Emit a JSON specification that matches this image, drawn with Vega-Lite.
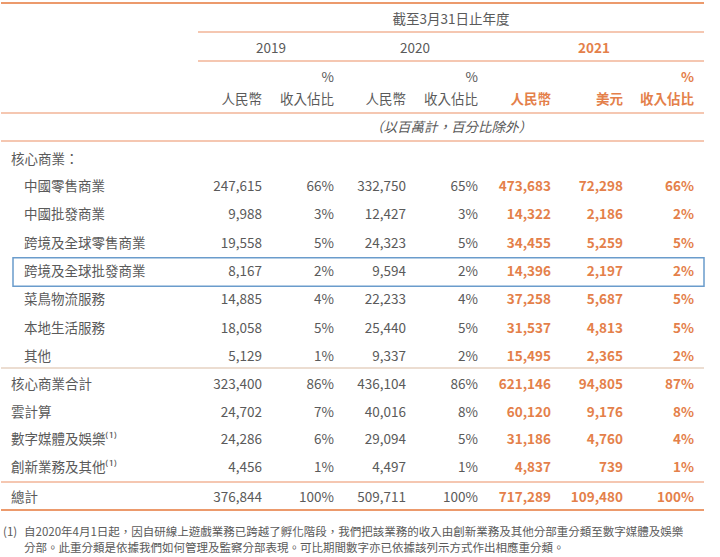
{
  "$schema": "https://vega.github.io/schema/vega-lite/v6.json",
  "width": 720,
  "height": 557,
  "autosize": {"type": "fit", "contains": "padding"},
  "padding": 0,
  "background": "white",
  "config": {"view": {"stroke": null}, "text": {"font": "Noto Sans CJK TC", "fontSize": 13.5, "baseline": "middle"}},
  "datasets": {
    "cols": [
      {"key": "r19", "col": 6}, {"key": "p19", "col": 8},
      {"key": "r20", "col": 9}, {"key": "p20", "col": 12},
      {"key": "r21", "col": 13}, {"key": "u21", "col": 15}, {"key": "p21", "col": 16}
    ],
    "body": [
      {"row": 6, "col": 4, "label": "中國零售商業", "r19": 247615, "p19": 0.66, "r20": 332750, "p20": 0.65, "r21": 473683, "u21": 72298, "p21": 0.66},
      {"row": 7, "col": 4, "label": "中國批發商業", "r19": 9988, "p19": 0.03, "r20": 12427, "p20": 0.03, "r21": 14322, "u21": 2186, "p21": 0.02},
      {"row": 8, "col": 4, "label": "跨境及全球零售商業", "r19": 19558, "p19": 0.05, "r20": 24323, "p20": 0.05, "r21": 34455, "u21": 5259, "p21": 0.05},
      {"row": 9, "col": 4, "label": "跨境及全球批發商業", "r19": 8167, "p19": 0.02, "r20": 9594, "p20": 0.02, "r21": 14396, "u21": 2197, "p21": 0.02},
      {"row": 10, "col": 4, "label": "菜鳥物流服務", "r19": 14885, "p19": 0.04, "r20": 22233, "p20": 0.04, "r21": 37258, "u21": 5687, "p21": 0.05},
      {"row": 11, "col": 4, "label": "本地生活服務", "r19": 18058, "p19": 0.05, "r20": 25440, "p20": 0.05, "r21": 31537, "u21": 4813, "p21": 0.05},
      {"row": 12, "col": 4, "label": "其他", "r19": 5129, "p19": 0.01, "r20": 9337, "p20": 0.02, "r21": 15495, "u21": 2365, "p21": 0.02},
      {"row": 13, "col": 2, "label": "核心商業合計", "r19": 323400, "p19": 0.86, "r20": 436104, "p20": 0.86, "r21": 621146, "u21": 94805, "p21": 0.87},
      {"row": 14, "col": 2, "label": "雲計算", "r19": 24702, "p19": 0.07, "r20": 40016, "p20": 0.08, "r21": 60120, "u21": 9176, "p21": 0.08},
      {"row": 15, "col": 2, "label": "數字媒體及娛樂⁽¹⁾", "r19": 24286, "p19": 0.06, "r20": 29094, "p20": 0.05, "r21": 31186, "u21": 4760, "p21": 0.04},
      {"row": 16, "col": 2, "label": "創新業務及其他⁽¹⁾", "r19": 4456, "p19": 0.01, "r20": 4497, "p20": 0.01, "r21": 4837, "u21": 739, "p21": 0.01},
      {"row": 17, "col": 2, "label": "總計", "r19": 376844, "p19": 1.0, "r20": 509711, "p20": 1.0, "r21": 717289, "u21": 109480, "p21": 1.0}
    ],
    "head": [
      {"row": 0, "col": 11, "text": "截至3月31日止年度", "s": "c"},
      {"row": 1, "col": 7, "text": "2019", "s": "c"},
      {"row": 1, "col": 10, "text": "2020", "s": "c"},
      {"row": 1, "col": 14, "text": "2021", "s": "co"},
      {"row": 2, "col": 8, "text": "%", "s": "r"},
      {"row": 2, "col": 12, "text": "%", "s": "r"},
      {"row": 2, "col": 16, "text": "%", "s": "ro"},
      {"row": 3, "col": 6, "text": "人民幣", "s": "r"},
      {"row": 3, "col": 8, "text": "收入佔比", "s": "r"},
      {"row": 3, "col": 9, "text": "人民幣", "s": "r"},
      {"row": 3, "col": 12, "text": "收入佔比", "s": "r"},
      {"row": 3, "col": 13, "text": "人民幣", "s": "ro"},
      {"row": 3, "col": 15, "text": "美元", "s": "ro"},
      {"row": 3, "col": 16, "text": "收入佔比", "s": "ro"},
      {"row": 4, "col": 11, "text": "（以百萬計，百分比除外）", "s": "ci"},
      {"row": 5, "col": 2, "text": "核心商業：", "s": "l"},
      {"row": 18, "col": 1, "text": "(1)", "s": "f"},
      {"row": 18, "col": 4, "text": "自2020年4月1日起，因自研線上遊戲業務已跨越了孵化階段，我們把該業務的收入由創新業務及其他分部重分類至數字媒體及娛樂", "s": "f"},
      {"row": 19, "col": 4, "text": "分部。此重分類是依據我們如何管理及監察分部表現。可比期間數字亦已依據該列示方式作出相應重分類。", "s": "f"}
    ],
    "lines": [
      {"y": -0.5, "c1": 0, "c2": 17, "kind": "top"},
      {"y": 0.5, "c1": 5, "c2": 17, "kind": "thin"},
      {"y": 1.5, "c1": 5, "c2": 17, "kind": "thin"},
      {"y": 3.5, "c1": 0, "c2": 17, "kind": "thin"},
      {"y": 4.5, "c1": 0, "c2": 17, "kind": "thin"},
      {"y": 12.5, "c1": 0, "c2": 17, "kind": "tan"},
      {"y": 16.5, "c1": 0, "c2": 17, "kind": "thin"},
      {"y": 17.5, "c1": 0, "c2": 17, "kind": "top"}
    ],
    "box": [{"r1": 8.5, "r2": 9.5, "c1": 3, "c2": 17}]
  },
  "encoding": {
    "x": {"field": "col", "type": "quantitative", "axis": null,
      "scale": {"domain": [0, 1, 2, 3, 4, 5, 6, 7, 8, 9, 10, 11, 12, 13, 14, 15, 16, 17, 18],
                "range": [0, 2, 10, 12, 23, 197, 261, 270, 333, 405, 414, 450, 477, 550, 593, 622, 693, 703, 720],
                "zero": false, "nice": false}},
    "y": {"field": "row", "type": "quantitative", "axis": null,
      "scale": {"domain": [-0.5, 0, 0.5, 1, 1.5, 2, 3, 3.5, 4, 4.5, 5, 6, 12, 12.5, 13, 16.5, 17, 17.5, 18, 19],
                "range": [3, 20, 32, 49, 61, 78, 100, 113, 128, 141, 160, 187, 357, 368, 385, 482, 498, 510, 533, 549],
                "zero": false, "nice": false}}
  },
  "layer": [
    {
      "data": {"name": "lines"},
      "mark": {"type": "rule"},
      "encoding": {
        "x": {"field": "c1", "type": "quantitative"},
        "x2": {"field": "c2"},
        "y": {"field": "y", "type": "quantitative"},
        "color": {"field": "kind", "type": "nominal", "legend": null,
          "scale": {"domain": ["top", "thin", "tan"], "range": ["#ec9a6c", "#f2b497", "#d9bca4"]}},
        "strokeWidth": {"field": "kind", "type": "nominal", "legend": null,
          "scale": {"domain": ["top", "thin", "tan"], "range": [2, 1.2, 2.5]}}
      }
    },
    {
      "data": {"name": "box"},
      "mark": {"type": "rect", "fill": null, "fillOpacity": 0, "stroke": "#6a9ccc", "strokeWidth": 1.5},
      "encoding": {
        "x": {"field": "c1", "type": "quantitative"},
        "x2": {"field": "c2"},
        "y": {"field": "r1", "type": "quantitative"},
        "y2": {"field": "r2"}
      }
    },
    {
      "data": {"name": "body"},
      "mark": {"type": "text", "align": "left", "color": "#5a5a5a"},
      "encoding": {"text": {"field": "label"}}
    },
    {
      "data": {"name": "body"},
      "transform": [
        {"fold": ["r19", "r20"], "as": ["key", "value"]},
        {"lookup": "key", "from": {"data": {"name": "cols"}, "key": "key", "fields": ["col"]}}
      ],
      "mark": {"type": "text", "align": "right", "color": "#5a5a5a"},
      "encoding": {"text": {"field": "value", "type": "quantitative", "format": ","}}
    },
    {
      "data": {"name": "body"},
      "transform": [
        {"fold": ["p19", "p20"], "as": ["key", "value"]},
        {"lookup": "key", "from": {"data": {"name": "cols"}, "key": "key", "fields": ["col"]}}
      ],
      "mark": {"type": "text", "align": "right", "color": "#5a5a5a"},
      "encoding": {"text": {"field": "value", "type": "quantitative", "format": ".0%"}}
    },
    {
      "data": {"name": "body"},
      "transform": [
        {"fold": ["r21", "u21"], "as": ["key", "value"]},
        {"lookup": "key", "from": {"data": {"name": "cols"}, "key": "key", "fields": ["col"]}}
      ],
      "mark": {"type": "text", "align": "right", "color": "#e4804a", "fontWeight": "bold"},
      "encoding": {"text": {"field": "value", "type": "quantitative", "format": ","}}
    },
    {
      "data": {"name": "body"},
      "transform": [
        {"fold": ["p21"], "as": ["key", "value"]},
        {"lookup": "key", "from": {"data": {"name": "cols"}, "key": "key", "fields": ["col"]}}
      ],
      "mark": {"type": "text", "align": "right", "color": "#e4804a", "fontWeight": "bold"},
      "encoding": {"text": {"field": "value", "type": "quantitative", "format": ".0%"}}
    },
    {
      "data": {"name": "head"},
      "transform": [{"filter": "datum.s == 'l'"}],
      "mark": {"type": "text", "align": "left", "color": "#5a5a5a"},
      "encoding": {"text": {"field": "text"}}
    },
    {
      "data": {"name": "head"},
      "transform": [{"filter": "datum.s == 'r'"}],
      "mark": {"type": "text", "align": "right", "color": "#5a5a5a"},
      "encoding": {"text": {"field": "text"}}
    },
    {
      "data": {"name": "head"},
      "transform": [{"filter": "datum.s == 'ro'"}],
      "mark": {"type": "text", "align": "right", "color": "#e4804a", "fontWeight": "bold"},
      "encoding": {"text": {"field": "text"}}
    },
    {
      "data": {"name": "head"},
      "transform": [{"filter": "datum.s == 'c'"}],
      "mark": {"type": "text", "align": "center", "color": "#5a5a5a"},
      "encoding": {"text": {"field": "text"}}
    },
    {
      "data": {"name": "head"},
      "transform": [{"filter": "datum.s == 'co'"}],
      "mark": {"type": "text", "align": "center", "color": "#e4804a", "fontWeight": "bold"},
      "encoding": {"text": {"field": "text"}}
    },
    {
      "data": {"name": "head"},
      "transform": [{"filter": "datum.s == 'ci'"}],
      "mark": {"type": "text", "align": "center", "color": "#5a5a5a", "fontStyle": "italic"},
      "encoding": {"text": {"field": "text"}}
    },
    {
      "data": {"name": "head"},
      "transform": [{"filter": "datum.s == 'f'"}],
      "mark": {"type": "text", "align": "left", "color": "#5a5a5a", "fontSize": 11.5},
      "encoding": {"text": {"field": "text"}}
    }
  ]
}
